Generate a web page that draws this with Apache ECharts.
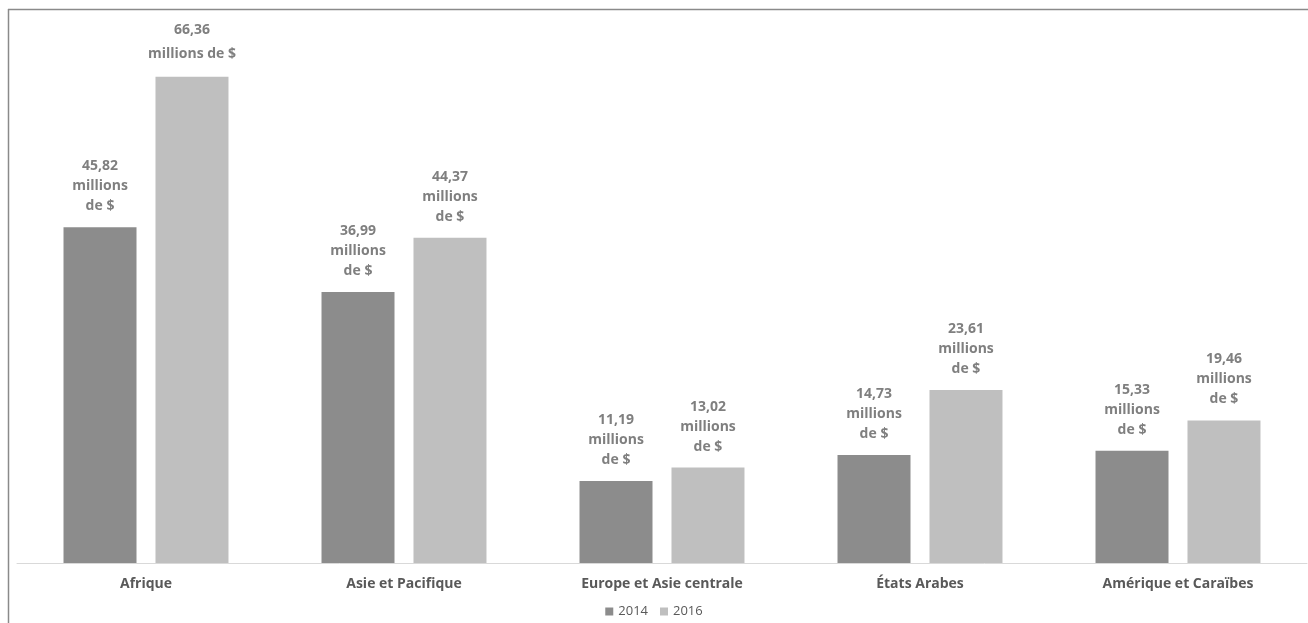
<!DOCTYPE html>
<html>
<head>
<meta charset="utf-8">
<script src="https://cdn.jsdelivr.net/npm/echarts@6/dist/echarts.min.js"></script>
<style>
  html, body { margin: 0; padding: 0; background: #fff; }
  #chart { width: 1308px; height: 623px; }
</style>
</head>
<body>
<div id="chart"></div>
<script>
// Regions and funding amounts (millions of dollars)
const regions = ['Afrique', 'Asie et Pacifique', 'Europe et Asie centrale', 'États Arabes', 'Amérique et Caraïbes'];
const years = ['2014', '2016'];
const values2014 = [45.82, 36.99, 11.19, 14.73, 15.33];
const values2016 = [66.36, 44.37, 13.02, 23.61, 19.46];

const labelColor = '#7f7f7f';
const fontFamily = '"Open Sans", "Noto Sans", sans-serif';

function fmt(v) {
  return v.toFixed(2).replace('.', ',');
}

// Tall bars leave room for a wider two-line label
function makeData(values, wideIndex) {
  return values.map((v, i) => {
    const item = { value: v };
    if (i === wideIndex) {
      item.label = { formatter: p => fmt(p.value) + '\nmillions de $', lineHeight: 24 };
    }
    return item;
  });
}

const baseLabel = {
  show: true,
  position: 'top',
  distance: 11,
  color: labelColor,
  fontWeight: 'bold',
  fontSize: 14,
  lineHeight: 20,
  fontFamily: fontFamily,
  formatter: p => fmt(p.value) + '\nmillions\nde $'
};

const chart = echarts.init(document.getElementById('chart'), null, { renderer: 'canvas' });
chart.setOption({
  animation: false,
  backgroundColor: '#ffffff',
  grid: { left: 17, right: 1, top: 50, bottom: 60, containLabel: false },
  legend: {
    data: years,
    bottom: 0,
    left: 'center',
    itemWidth: 8,
    itemHeight: 8,
    itemGap: 12,
    icon: 'rect',
    textStyle: { color: '#595959', fontSize: 13, fontFamily: fontFamily }
  },
  xAxis: {
    type: 'category',
    data: regions,
    axisLine: { show: true, lineStyle: { color: '#d9d9d9', width: 1 } },
    axisTick: { show: false },
    axisLabel: {
      color: '#595959',
      fontWeight: 'bold',
      fontSize: 14,
      fontFamily: fontFamily,
      margin: 14
    }
  },
  yAxis: {
    type: 'value',
    min: 0,
    max: 70,
    show: false,
    splitLine: { show: false }
  },
  series: [
    {
      name: years[0],
      type: 'bar',
      data: makeData(values2014, -1),
      barWidth: 73,
      barGap: '26%',
      itemStyle: { color: '#8c8c8c' },
      label: baseLabel
    },
    {
      name: years[1],
      type: 'bar',
      data: makeData(values2016, 0),
      barWidth: 73,
      barGap: '26%',
      itemStyle: { color: '#bfbfbf' },
      label: baseLabel
    }
  ],
  graphic: [
    // frame lines along the top and left edges
    { type: 'line', shape: { x1: 8, y1: 9.5, x2: 1308, y2: 9.5 }, style: { stroke: '#8a8a8a', lineWidth: 1.5 } },
    { type: 'line', shape: { x1: 8.5, y1: 9, x2: 8.5, y2: 623 }, style: { stroke: '#8a8a8a', lineWidth: 1.5 } }
  ]
});
</script>
</body>
</html>
